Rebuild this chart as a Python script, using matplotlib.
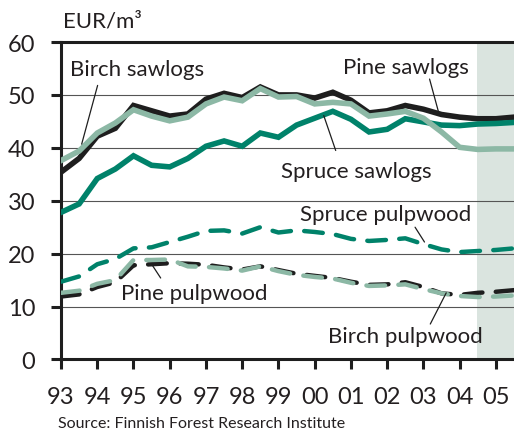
import matplotlib
matplotlib.use("Agg")
import matplotlib.pyplot as plt
import numpy as np

plt.rcParams['font.family'] = ['Lato', 'DejaVu Sans']

# half-year observations, 1993.0 ... 2005.5
years = np.arange(1993, 2006, 0.5)

pine_saw = [35.4, 38.0, 42.2, 43.7, 48.0, 47.0, 46.0, 46.4, 49.2, 50.3, 49.5, 51.5, 50.0,
            50.0, 49.4, 50.5, 49.0, 46.6, 47.0, 48.0, 47.3, 46.3, 45.8, 45.5, 45.5, 45.8]
birch_saw = [37.6, 39.4, 42.8, 44.7, 47.2, 46.0, 45.1, 45.8, 48.3, 49.6, 48.9, 51.2, 49.6,
             49.7, 48.3, 48.6, 48.3, 46.0, 46.4, 46.9, 45.6, 43.0, 40.1, 39.7, 39.8, 39.8]
spruce_saw = [27.8, 29.4, 34.2, 36.0, 38.5, 36.7, 36.4, 38.0, 40.3, 41.3, 40.3, 42.8, 42.0,
              44.3, 45.6, 46.9, 45.4, 43.0, 43.5, 45.5, 44.9, 44.3, 44.2, 44.5, 44.6, 44.8]
spruce_pulp = [14.7, 15.7, 18.0, 19.0, 21.0, 21.2, 22.2, 23.2, 24.3, 24.4, 23.8, 25.0, 24.0,
               24.4, 24.1, 23.7, 22.8, 22.4, 22.6, 22.9, 21.8, 20.8, 20.3, 20.5, 20.7, 21.0]
pine_pulp = [11.9, 12.3, 13.7, 14.6, 17.8, 18.0, 18.2, 18.1, 17.9, 17.4, 17.0, 17.6, 16.9,
             16.2, 15.8, 15.4, 14.7, 14.1, 14.2, 14.6, 13.7, 12.5, 12.2, 12.6, 12.8, 13.1]
birch_pulp = [12.6, 13.0, 14.3, 15.0, 18.8, 18.8, 18.9, 17.6, 17.5, 17.2, 16.8, 17.6, 16.7,
              16.0, 15.6, 15.3, 14.5, 13.9, 14.0, 14.2, 13.3, 12.5, 12.0, 11.8, 11.9, 12.1]

tick_years = list(range(1993, 2006))
tick_labels = ['93', '94', '95', '96', '97', '98', '99', '00', '01', '02', '03', '04', '05']
forecast_start = 2004.47

black = '#1e1e1e'
teal = '#00826a'
light = '#8cb8a5'
txt = '#231f20'

fig = plt.figure(figsize=(5.14, 4.31), dpi=100)
ax = fig.add_axes([0.1187, 0.1636, 0.8813, 0.7366])

ax.axvspan(forecast_start, 2005.6, color='#dae4df', zorder=0, lw=0)
for v in range(10, 60, 10):
    ax.axhline(v, color='#555555', lw=0.8, zorder=1)

saw_lw = 4.0
pulp_lw = 3.2
dash = (0, (4.2, 3.0))
ax.plot(years, pine_saw, color=black, lw=saw_lw, zorder=3, solid_joinstyle='miter')
ax.plot(years, spruce_saw, color=teal, lw=saw_lw, zorder=4, solid_joinstyle='miter')
ax.plot(years, birch_saw, color=light, lw=saw_lw, zorder=5, solid_joinstyle='miter')
ax.plot(years, spruce_pulp, color=teal, lw=pulp_lw, ls=dash, dash_capstyle='round', zorder=4)
ax.plot(years, pine_pulp, color=black, lw=pulp_lw, ls=dash, dash_capstyle='round', zorder=3)
ax.plot(years, birch_pulp, color=light, lw=pulp_lw, ls=dash, dash_capstyle='round', zorder=5)

ax.set_xlim(1993, 2005.5)
ax.set_ylim(0, 60)
ax.set_xticks(tick_years)
ax.set_xticklabels(tick_labels)
ax.set_yticks(range(0, 70, 10))
ax.tick_params(axis='both', direction='out', length=7.5, width=2.2, color=black,
               labelsize=17, labelcolor=txt)
ax.tick_params(axis='x', pad=11.5)
ax.tick_params(axis='y', pad=11)
for side in ['left', 'bottom', 'top']:
    ax.spines[side].set_linewidth(2.2)
    ax.spines[side].set_color(black)
ax.spines['right'].set_visible(False)

# labels and leader lines
lab = dict(fontsize=16, color=txt, ha='center', va='center', zorder=6)
ax.text(1995.09, 54.9, 'Birch sawlogs', **lab)
ax.text(2002.53, 55.3, 'Pine sawlogs', **lab)
ax.text(2001.15, 35.6, 'Spruce sawlogs', **lab)
ax.text(2001.97, 27.5, 'Spruce pulpwood', **lab)
ax.text(1996.69, 12.6, 'Pine pulpwood', **lab)
ax.text(2002.50, 4.4, 'Birch pulpwood', **lab)

leaders = [((1994.01, 51.8), (1993.57, 40.7)),
           ((2003.17, 53.0), (2003.42, 46.7)),
           ((2000.58, 39.5), (2000.25, 46.1)),
           ((2002.77, 25.0), (2003.03, 22.2)),
           ((1995.75, 15.4), (1995.53, 17.7)),
           ((2003.19, 6.7), (2003.63, 12.6))]
for start, end in leaders:
    ax.annotate('', xy=end, xytext=start,
                arrowprops=dict(arrowstyle='-', color=black, lw=0.9, shrinkA=0, shrinkB=0),
                zorder=6)

fig.text(63 / 514, 1 - 22 / 431, 'EUR/m³', fontsize=16, color=txt, ha='left', va='center')
fig.text(58 / 514, 1 - 424 / 431, 'Source: Finnish Forest Research Institute',
         fontsize=11.5, color=txt, ha='left', va='center')

fig.savefig('out.png', dpi=100)
